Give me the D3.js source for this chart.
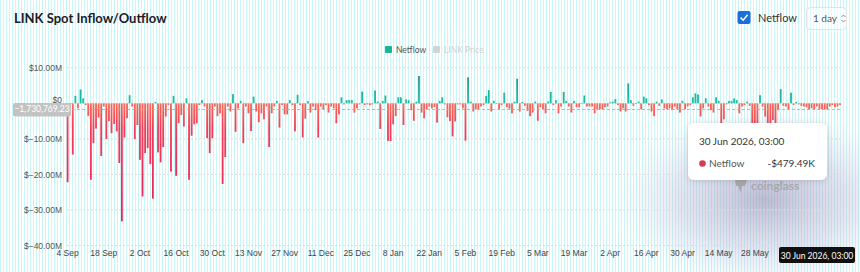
<!DOCTYPE html>
<html>
<head>
<meta charset="utf-8">
<script src="https://cdn.jsdelivr.net/npm/d3@7"></script>
<style>
  html, body { margin: 0; padding: 0; background: #fff; }
  svg { display: block; font-family: Lato, "Noto Sans", sans-serif; }
</style>
</head>
<body>
<div id="chart"></div>
<script>
// daily netflow, millions of USD, 4 Sep 2025 .. 30 Jun 2026
var netflow = [
  -22.2, -0.3, -14.4, 2.1, -1.4, 3.9, 1.4, -0.5, -3.5, -21.5,
  -11.2, -7.1, -4.0, -14.8, -0.9, -10.0, -5.0, -8.4, -5.8, -7.9,
  -16.8, -33.2, -9.6, -4.2, 2.3, -0.9, -10.1, -6.1, -15.9, -26.2,
  -14.0, -12.6, -17.1, -26.8, 0.4, -13.8, -16.6, -12.3, -3.7, -0.5,
  -19.2, 2.1, -20.4, -5.6, -3.3, -6.5, 1.4, -21.5, -9.1, -5.9,
  -5.6, -0.5, 0.9, -0.9, -9.8, -14.0, -9.8, -0.9, -3.6, -2.8,
  -22.7, -15.1, -0.9, -2.3, 2.6, -8.0, -1.4, 0.7, -11.2, -0.9,
  -2.8, -7.8, 1.9, -2.3, -5.3, -2.8, -4.5, -0.9, -12.3, -2.8,
  -0.9, 0.7, -6.8, -0.5, -3.1, -3.1, 0.9, -0.5, -7.9, 2.4,
  -0.5, -9.6, -4.3, 0.6, -2.6, -0.9, -1.9, -9.6, -0.9, -1.7,
  -0.5, -2.6, -0.9, -1.4, -5.6, -3.1, 1.7, -0.3, 0.9, 0.9,
  0.9, -2.6, -1.4, -0.3, 3.3, -0.5, -0.3, -0.5, -0.3, 3.6,
  0.5, -7.2, 0.7, 2.2, -10.6, -10.6, -5.9, -3.6, 1.7, 1.7,
  -6.1, 1.1, 0.9, -1.9, -4.9, 0.5, 7.7, -2.6, -4.2, -1.7,
  -0.9, -1.4, -1.1, -5.4, 0.7, 1.7, -0.3, -3.9, -5.0, -9.3,
  -5.1, -0.3, -0.3, -1.4, -10.5, 7.3, 0.5, -2.3, -1.7, -1.6,
  -0.9, -0.5, 2.1, 3.7, -2.3, 0.7, -0.2, -1.7, -0.5, 3.0,
  -1.1, -1.5, -2.8, 0.5, 6.9, -2.3, 0.4, -0.7, -2.1, -3.6,
  -2.6, 0.5, -4.9, -1.1, -1.6, -2.8, 0.5, 3.2, -0.5, 0.9,
  -2.8, -0.9, 3.2, 0.7, -0.9, -2.6, 0.7, -1.1, -1.1, -0.2,
  2.2, -0.9, -0.9, -0.9, -2.8, -1.7, -1.7, -1.7, -1.1, -0.9,
  0.3, 0.5, 1.2, -0.5, -2.3, -1.4, -2.3, 5.6, 0.9, -0.7,
  -0.2, 0.5, -1.7, 1.9, 1.4, -0.5, -2.3, -3.6, 0.5, -0.7,
  1.1, -1.4, -1.7, -1.4, -1.9, -0.9, -1.7, -2.6, 0.7, -1.7,
  -0.9, -0.5, 1.7, 2.8, 2.5, -3.7, -1.4, 1.4, -0.9, -1.9,
  -2.6, 1.7, 0.7, -5.6, -4.5, -0.3, 0.7, 0.7, 1.4, 0.9,
  -2.8, -0.9, -0.5, 0.5, -0.7, -16.0, -16.5, -9.0, 2.3, -0.9,
  -3.7, -17.0, -16.0, -4.7, -17.0, -1.9, 4.0, -0.7, -0.9, -1.7,
  3.0, -0.5, 0.4, -0.3, -0.7, -0.9, -1.1, -1.7, -1.4, -1.7,
  -0.9, -1.7, -1.7, -1.7, -1.7, -0.9, -0.5, -1.1, -0.9, -0.48
];
var yTicks = [10, 0, -10, -20, -30, -40];
var xTickLabels = ["4 Sep", "18 Sep", "2 Oct", "16 Oct", "30 Oct", "13 Nov", "27 Nov", "11 Dec",
  "25 Dec", "8 Jan", "22 Jan", "5 Feb", "19 Feb", "5 Mar", "19 Mar", "2 Apr", "16 Apr",
  "30 Apr", "14 May", "28 May"];
var legendItems = ["Netflow", "LINK Price"];
var hoverValue = -1730769.23;   // crosshair position on the y axis
var tipDate = "30 Jun 2026, 03:00";
var tipValue = "-$479.49K";

var width = 860, height = 272;
var svg = d3.select("#chart").append("svg")
  .attr("width", width)
  .attr("height", height);

var defs = svg.append("defs");

// striped page background
var pat = defs.append("pattern")
  .attr("id", "stripes")
  .attr("patternUnits", "userSpaceOnUse")
  .attr("width", 3).attr("height", 10);
pat.append("rect").attr("width", 3).attr("height", 10).attr("fill", "#fff");
pat.append("rect").attr("width", 1).attr("height", 10).attr("fill", "#c9f6f8");
svg.append("rect").attr("width", width).attr("height", height).attr("fill", "url(#stripes)");

// scales
var step = 2.581;
var x = d3.scaleBand()
  .domain(d3.range(netflow.length))
  .range([68 - step / 2, 68 + (netflow.length - 0.5) * step])
  .paddingInner(0.3);
var y = d3.scaleLinear().domain([-40, 10]).range([245.5, 67.8]);

var redGrad = defs.append("linearGradient")
  .attr("id", "redGrad").attr("gradientUnits", "userSpaceOnUse")
  .attr("x1", 0).attr("x2", 0).attr("y1", y(0)).attr("y2", y(-34));
redGrad.append("stop").attr("offset", 0).attr("stop-color", "#f86a58");
redGrad.append("stop").attr("offset", 0.2).attr("stop-color", "#f03f5b");
redGrad.append("stop").attr("offset", 1).attr("stop-color", "#e8225f");

var greenGrad = defs.append("linearGradient")
  .attr("id", "greenGrad").attr("gradientUnits", "userSpaceOnUse")
  .attr("x1", 0).attr("x2", 0).attr("y1", y(8)).attr("y2", y(0));
greenGrad.append("stop").attr("offset", 0).attr("stop-color", "#2a948e");
greenGrad.append("stop").attr("offset", 1).attr("stop-color", "#1cc3a2");

// lavender glow under the tooltip
var glow = defs.append("radialGradient").attr("id", "glow");
glow.append("stop").attr("offset", 0).attr("stop-color", "#8e84ad").attr("stop-opacity", 0.55);
glow.append("stop").attr("offset", 0.55).attr("stop-color", "#aea4cc").attr("stop-opacity", 0.3);
glow.append("stop").attr("offset", 1).attr("stop-color", "#c8c0e0").attr("stop-opacity", 0);

var shadow = defs.append("filter").attr("id", "shadow")
  .attr("x", "-20%").attr("y", "-30%").attr("width", "140%").attr("height", "160%");
shadow.append("feDropShadow").attr("dx", 0).attr("dy", 1).attr("stdDeviation", 3)
  .attr("flood-color", "#000").attr("flood-opacity", 0.15);

// title + controls
svg.append("text")
  .attr("x", 14).attr("y", 22.5)
  .attr("font-size", 13).attr("font-weight", 700).attr("fill", "#1b1b2b")
  .text("LINK Spot Inflow/Outflow");

svg.append("rect")
  .attr("x", 737.5).attr("y", 11).attr("width", 13).attr("height", 13).attr("rx", 2)
  .attr("fill", "#1b6fdc");
svg.append("path")
  .attr("d", "M740.6,17.6 L743.2,20.2 L747.6,14.8")
  .attr("fill", "none").attr("stroke", "#fff").attr("stroke-width", 1.5);
svg.append("text")
  .attr("x", 758).attr("y", 21.5)
  .attr("font-size", 11).attr("fill", "#333")
  .text("Netflow");

svg.append("rect")
  .attr("x", 806.5).attr("y", 7.5).attr("width", 40).attr("height", 22).attr("rx", 4)
  .attr("fill", "rgba(255,255,255,0.45)").attr("stroke", "#e3e3e3");
svg.append("text")
  .attr("x", 813).attr("y", 22)
  .attr("font-size", 10).attr("fill", "#555")
  .text("1 day");
svg.append("path")
  .attr("d", "M841.5,17 L843.5,15 L845.5,17 M841.5,20 L843.5,22 L845.5,20")
  .attr("fill", "none").attr("stroke", "#777").attr("stroke-width", 0.8);

// legend
var legend = svg.append("g").attr("transform", "translate(385,46)");
legend.selectAll("g")
  .data(legendItems)
  .join("g")
  .attr("transform", (d, i) => "translate(" + (i * 48) + ",0)")
  .each(function(d, i) {
    var g = d3.select(this);
    g.append("rect").attr("width", 7).attr("height", 7).attr("rx", 1)
      .attr("fill", i === 0 ? "#19b596" : "#d4d4d4");
    g.append("text").attr("x", 11).attr("y", 6.5)
      .attr("font-size", 8.5).attr("fill", i === 0 ? "#555" : "#cfcfcf")
      .text(d);
  });

svg.append("ellipse")
  .attr("cx", 765).attr("cy", 200).attr("rx", 150).attr("ry", 90)
  .attr("fill", "url(#glow)");

// grid
svg.append("g")
  .selectAll("line")
  .data(yTicks)
  .join("line")
  .attr("x1", 67).attr("x2", 842)
  .attr("y1", d => y(d)).attr("y2", d => y(d))
  .attr("stroke", "#dedede").attr("stroke-dasharray", "2,2");

// axes
var fmt = d => d === 0 ? "$0" : "$" + d3.format(".2f")(d) + "M";
var yAxis = svg.append("g")
  .attr("transform", "translate(62,0)")
  .call(d3.axisLeft(y).tickValues(yTicks).tickSize(0).tickPadding(0).tickFormat(fmt));
yAxis.select(".domain").remove();
yAxis.selectAll("text").attr("font-size", 8.5).attr("fill", "#555").attr("font-family", null);
// the crosshair label sits over the $0 tick, lift it a little like the original
yAxis.selectAll(".tick text").filter(d => d === 0).attr("dy", "-0.05em");

var xTickDays = xTickLabels.map((d, i) => i * 14);
var xAxis = svg.append("g")
  .attr("transform", "translate(0,250)")
  .call(d3.axisBottom(x).tickValues(xTickDays).tickSize(0).tickPadding(0)
    .tickFormat((d, i) => xTickLabels[i]));
xAxis.select(".domain").remove();
xAxis.selectAll("text").attr("font-size", 8.5).attr("fill", "#444").attr("font-family", null)
  .attr("dy", "0.71em");

// bars
svg.append("g")
  .selectAll("rect")
  .data(netflow)
  .join("rect")
  .attr("x", (d, i) => x(i))
  .attr("width", x.bandwidth())
  .attr("y", d => y(Math.max(0, d)))
  .attr("height", d => Math.abs(y(d) - y(0)))
  .attr("fill", d => d >= 0 ? "url(#greenGrad)" : "url(#redGrad)");

// crosshair
var hy = y(hoverValue / 1e6);
svg.append("line")
  .attr("x1", 67).attr("x2", 842).attr("y1", hy).attr("y2", hy)
  .attr("stroke", "#aaa").attr("stroke-dasharray", "3,2").attr("stroke-width", 0.8);
svg.append("rect")
  .attr("x", 13).attr("y", hy - 6.5).attr("width", 58).attr("height", 13.5).attr("rx", 2)
  .attr("fill", "#c3c3c3");
svg.append("text")
  .attr("x", 42).attr("y", hy + 3)
  .attr("text-anchor", "middle").attr("font-size", 8.5).attr("fill", "#fff")
  .text(d3.format(",.2f")(hoverValue));

// watermark
var wm = svg.append("g").attr("fill", "#a9a9ad");
wm.append("path").attr("d", "M735,180 L747,180 L745,186 L742,186 L741,193 L738,186 L736,186 Z");
wm.append("text").attr("x", 751).attr("y", 190).attr("font-size", 12).attr("font-weight", 700)
  .text("coinglass");

// tooltip
var tip = svg.append("g").attr("transform", "translate(688,123)");
tip.append("rect")
  .attr("width", 139).attr("height", 57).attr("rx", 6)
  .attr("fill", "#fff").attr("filter", "url(#shadow)");
tip.append("text").attr("x", 11).attr("y", 22)
  .attr("font-size", 10).attr("fill", "#333").text(tipDate);
tip.append("circle").attr("cx", 14.5).attr("cy", 40.5).attr("r", 3.3).attr("fill", "#d63a55");
tip.append("text").attr("x", 21).attr("y", 44)
  .attr("font-size", 10).attr("fill", "#555").text(legendItems[0]);
tip.append("text").attr("x", 127).attr("y", 44).attr("text-anchor", "end")
  .attr("font-size", 10).attr("fill", "#333").text(tipValue);

// highlighted x label
svg.append("rect")
  .attr("x", 779).attr("y", 247).attr("width", 76).attr("height", 16).attr("rx", 2)
  .attr("fill", "#111");
svg.append("text")
  .attr("x", 817).attr("y", 258.5).attr("text-anchor", "middle")
  .attr("font-size", 8.5).attr("fill", "#fff")
  .text(tipDate);
</script>
</body>
</html>
